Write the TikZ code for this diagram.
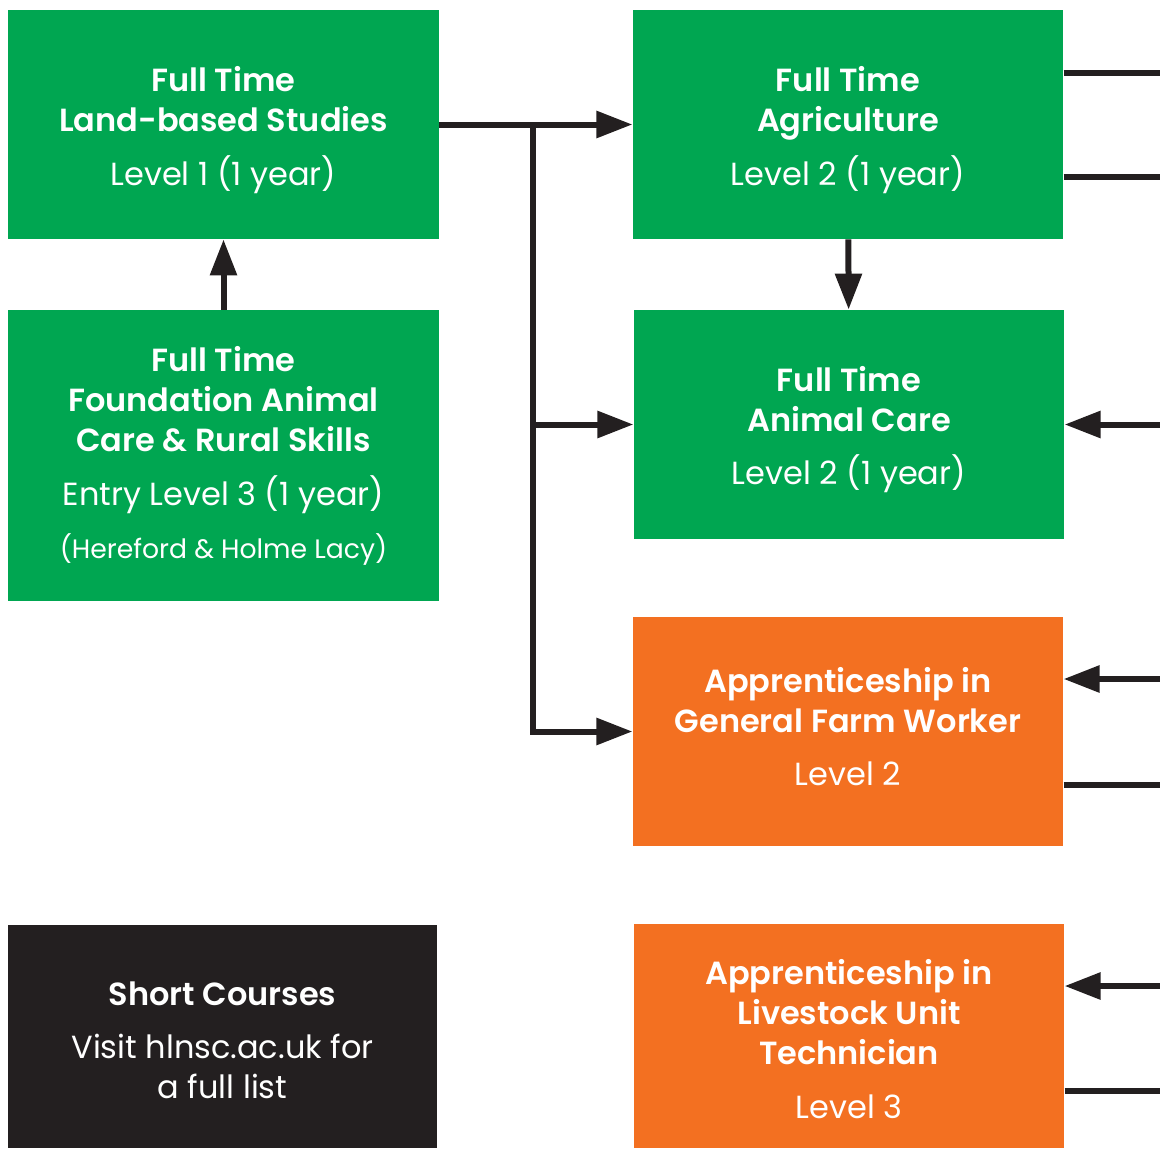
\documentclass[tikz,border=0pt]{standalone}
\usepackage{fontspec}
\setmainfont{Poppins}[BoldFont={Poppins SemiBold}]
\usetikzlibrary{arrows.meta, positioning}
\definecolor{landgreen}{RGB}{0,166,81}
\definecolor{apporange}{RGB}{243,112,33}
\definecolor{shortblack}{RGB}{35,31,32}

\begin{document}
\begin{tikzpicture}[x=0.75pt, y=-0.75pt,
    course/.style={rectangle, fill=landgreen, minimum width=323pt, minimum height=172pt, inner sep=0pt},
    apprentice/.style={course, fill=apporange},
    coursetext/.style={text=white, align=center, inner sep=0pt, font=\fontsize{24}{30}\selectfont},
    link/.style={line width=4.5pt, color=shortblack},
    flow/.style={link, -{Triangle[length=27pt, width=19.5pt]}}]
    \useasboundingbox (0,0) rectangle (1160,1149);

    % Left column
    \node[course] (landbased) at (223.5,124.5) {};
    \node[coursetext] (landbasedtext) at (223.5,130)
        {\textbf{Full Time}\\ \textbf{Land-based Studies}\\[10pt] Level 1 (1 year)};
    \node[course, minimum height=218pt] (foundation) at (223.5,455.5) {};
    \node[coursetext] (foundationtext) at (223.5,456)
        {\textbf{Full Time}\\ \textbf{Foundation Animal}\\ \textbf{Care \& Rural Skills}\\[10pt]
         Entry Level 3 (1 year)\\[10pt] {\fontsize{20}{30}\selectfont (Hereford \& Holme Lacy)}};
    \node[course, fill=shortblack, minimum width=322pt, minimum height=167pt] (short) at (222.5,1036.5) {};
    \node[coursetext] (shorttext) at (222.5,1040.5)
        {\textbf{Short Courses}\\[10pt] Visit hlnsc.ac.uk for\\ a full list};

    % Right column
    \node[course] (agri) at (848,124.5) {};
    \node[coursetext] (agritext) at (848,130)
        {\textbf{Full Time}\\ \textbf{Agriculture}\\[10pt] Level 2 (1 year)};
    \node[course] (animal) at (849,424.5) {};
    \node[coursetext] (animaltext) at (849,429.5)
        {\textbf{Full Time}\\ \textbf{Animal Care}\\[10pt] Level 2 (1 year)};
    \node[apprentice] (farmworker) at (848,731.5) {};
    \node[coursetext] (farmworkertext) at (848,726.5)
        {\textbf{Apprenticeship in}\\ \textbf{General Farm Worker}\\[10pt] Level 2};
    \node[apprentice, minimum height=168pt] (livestock) at (849,1036) {};
    \node[coursetext] (livestocktext) at (849,1039)
        {\textbf{Apprenticeship in}\\ \textbf{Livestock Unit}\\ \textbf{Technician}\\[10pt] Level 3};

    % Progression arrows
    \coordinate (split) at (533,124.5);
    \draw[flow] (foundation) -- (landbased);
    \draw[flow] (landbased.east |- split) -- (agri.west |- split);
    \draw[flow] (agri) -- (animal);
    \draw[flow] (split) |- (animal.west);
    \draw[flow] (split) |- (farmworker.west);

    % Links off the right edge
    \coordinate (agriout1) at (1160,73);
    \coordinate (agriout2) at (1160,177);
    \coordinate (animalin) at (1160,424.5);
    \coordinate (farmin) at (1160,679);
    \coordinate (farmout) at (1160,785);
    \coordinate (stockin) at (1160,986);
    \coordinate (stockout) at (1160,1091);
    \draw[link] (agri.east |- agriout1) -- (agriout1);
    \draw[link] (agri.east |- agriout2) -- (agriout2);
    \draw[flow] (animalin) -- (animal.east);
    \draw[flow] (farmin) -- (farmworker.east |- farmin);
    \draw[link] (farmworker.east |- farmout) -- (farmout);
    \draw[flow] (stockin) -- (livestock.east |- stockin);
    \draw[link] (livestock.east |- stockout) -- (stockout);
\end{tikzpicture}
\end{document}
